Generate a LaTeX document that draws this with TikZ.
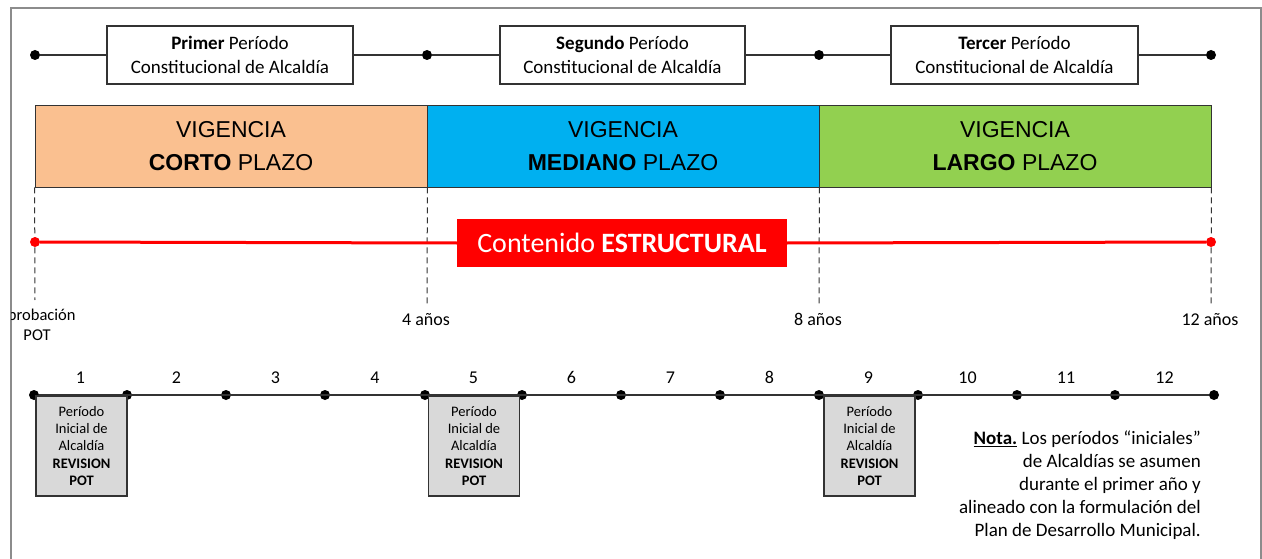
\documentclass[tikz,border=0pt]{standalone}
\usepackage{fontspec}
\setmainfont{Carlito}
\newfontfamily\arialf{Liberation Sans}
\definecolor{corto}{HTML}{FAC090}
\definecolor{mediano}{HTML}{00B0F0}
\definecolor{largo}{HTML}{92D050}
\definecolor{frameg}{HTML}{8C8C8C}
\definecolor{boxg}{HTML}{D9D9D9}
\definecolor{lineg}{HTML}{333333}
\tikzset{
  dot/.style={circle,fill=black,inner sep=0pt,minimum size=10pt},
  reddot/.style={circle,fill=red,inner sep=0pt,minimum size=10pt},
  periodbox/.style={draw=lineg,line width=1.2pt,fill=white,minimum height=58pt,align=center,font=\fontsize{19}{24}\selectfont,inner sep=0pt},
  vigbox/.style={draw=lineg,line width=0.8pt,minimum width=392pt,minimum height=82pt,align=center,font=\arialf\fontsize{23}{33}\selectfont,inner sep=0pt},
  revbox/.style={draw=lineg,line width=1.2pt,fill=boxg,minimum width=91pt,minimum height=100pt,align=center,font=\fontsize{14.5}{17.3}\selectfont,inner sep=0pt},
  yearlbl/.style={font=\fontsize{18}{20}\selectfont,inner sep=0pt,anchor=base},
  timeline/.style={lineg,line width=1.5pt},
  guide/.style={lineg,line width=1pt,dash pattern=on 6pt off 4pt},
}
\begin{document}
\begin{tikzpicture}[x=1pt,y=-1pt]
\useasboundingbox (0,0) rectangle (1262,559);
% frame
\draw[frameg,line width=1.5pt] (11,559) -- (11,8) -- (1261,8) -- (1261,559);
% top period line
\node[dot] (t0) at (35,55) {};
\node[dot] (t1) at (427,55) {};
\node[dot] (t2) at (819,55) {};
\node[dot] (t3) at (1211,55) {};
\draw[timeline] (t0) -- (t1) -- (t2) -- (t3);
\node[periodbox,minimum width=246pt] (p1) at (230,55) {\textbf{Primer} Período\\Constitucional de Alcaldía};
\node[periodbox,minimum width=245pt] (p2) at (622.5,55) {\textbf{Segundo} Período\\Constitucional de Alcaldía};
\node[periodbox,minimum width=247pt] (p3) at (1014.5,55) {\textbf{Tercer} Período\\Constitucional de Alcaldía};
% vigencia bars
\node[vigbox,fill=corto] (v1) at (231,146) {VIGENCIA\\\textbf{CORTO} PLAZO};
\node[vigbox,fill=mediano] (v2) at (623,146) {VIGENCIA\\\textbf{MEDIANO} PLAZO};
\node[vigbox,fill=largo] (v3) at (1015,146) {VIGENCIA\\\textbf{LARGO} PLAZO};
% dashed guides
\coordinate (d0) at (35,300);
\coordinate (d1) at (427,304);
\coordinate (d2) at (819,304);
\coordinate (d3) at (1211,304);
\draw[guide] (v1.south west) -- (d0);
\draw[guide] (v1.south east) -- (d1);
\draw[guide] (v2.south east) -- (d2);
\draw[guide] (v3.south east) -- (d3);
% red line
\node[reddot] (r0) at (35,242) {};
\node[reddot] (r1) at (1211,242) {};
\node[fill=red,minimum width=330pt,minimum height=48pt,inner sep=0pt,text=white,font=\fontsize{28}{30}\selectfont] (rb) at (622,243) {Contenido \textbf{ESTRUCTURAL}};
\draw[red,line width=3pt] (r0) -- (rb.west);
\draw[red,line width=3pt] (rb.east) -- (r1);
% year labels
\begin{scope}
\clip (11,290) rectangle (120,350);
\node[align=center,inner sep=0pt,font=\fontsize{16.5}{20}\selectfont] (apr) at (37,325) {Aprobación\\POT};
\end{scope}
\node[yearlbl] (a4) at (426,325) {4 años};
\node[yearlbl] (a8) at (818,325) {8 años};
\node[yearlbl] (a12) at (1210,325) {12 años};
% bottom timeline
\foreach \i/\x in {0/34,1/127,2/226,3/325,4/425,5/522,6/621,7/720,8/819,9/918,10/1017,11/1115,12/1214}
  \node[dot] (b\i) at (\x,395) {};
\draw[timeline] (b0) -- (b12);
\foreach \i [evaluate=\i as \j using int(\i-1)] in {1,...,12}
  \path (b\j) -- (b\i) node[midway,yearlbl,yshift=12pt] (y\i) {\i};
% revision boxes
\node[revbox] (rv1) at (81.5,446) {Período\\Inicial de\\Alcaldía\\\textbf{REVISION}\\\textbf{POT}};
\node[revbox] (rv2) at (474,446) {Período\\Inicial de\\Alcaldía\\\textbf{REVISION}\\\textbf{POT}};
\node[revbox] (rv3) at (869.5,446) {Período\\Inicial de\\Alcaldía\\\textbf{REVISION}\\\textbf{POT}};
% note
\node[anchor=east,align=right,inner sep=0pt,font=\fontsize{19}{23}\selectfont] (nota) at (1201,485)
  {\underline{\textbf{Nota.}} Los períodos “iniciales”\\de Alcaldías se asumen\\durante el primer año y\\alineado con la formulación del\\Plan de Desarrollo Municipal.};
\end{tikzpicture}
\end{document}
